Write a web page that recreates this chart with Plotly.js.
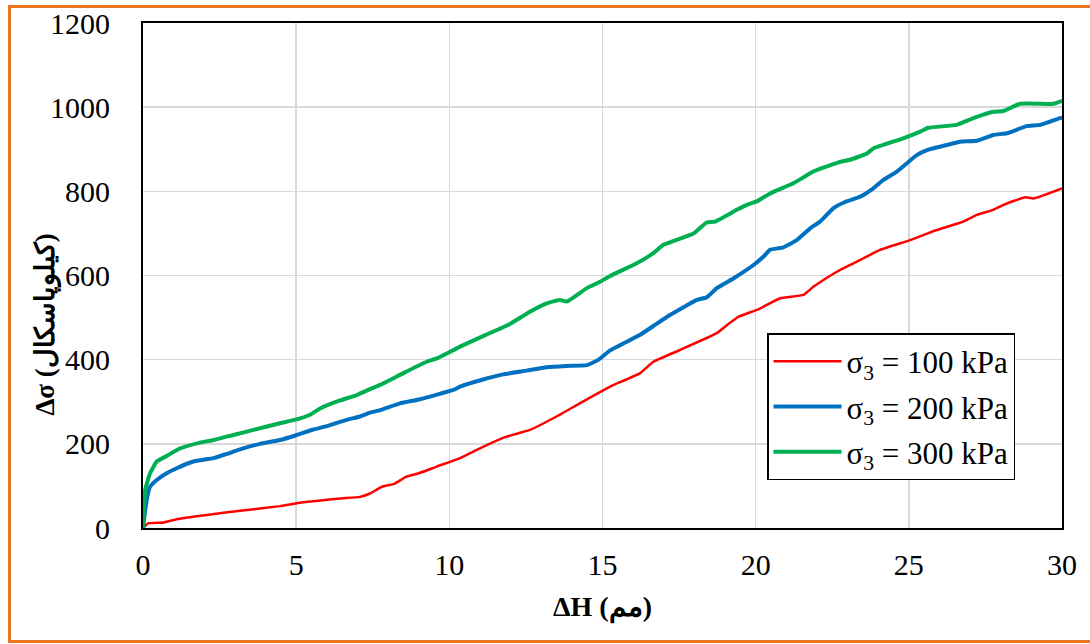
<!DOCTYPE html>
<html>
<head>
<meta charset="utf-8">
<script src="https://cdn.plot.ly/plotly-3.0.1.min.js"></script>
<style>
html,body{margin:0;padding:0;background:#fff;}
#wrap{position:relative;width:1090px;height:644px;overflow:hidden;}
#chart{width:1090px;height:644px;}
#frame{position:absolute;left:8px;top:5px;width:1100px;height:638px;border:3px solid #EB7421;box-sizing:border-box;pointer-events:none;}
</style>
</head>
<body>
<div id="wrap"><div id="chart"></div><div id="frame"></div></div>
<script>
// σ3 = 100 kPa
const dh100 = [0,0.17,0.66,1.1,2.08,3.17,4.47,5.02,6.43,7.08,7.41,7.8,8.2,8.6,9.0,9.59,10.35,11.1,11.87,12.63,13.5,14.3,15.25,16.23,16.66,17.53,18.73,19.06,19.44,20.1,20.8,21.56,21.88,22.65,23.19,23.52,24.06,25.04,25.91,26.78,27.22,27.76,28.09,28.8,29.07,30];
const ds100 = [0,11,13,21,31,41,52,59,70,74,82,98,105,122,130,146,166,193,217,233,265,298,336,368,395,423,463,482,502,520,546,554,573,609,629,641,661,684,708,728,744,756,768,786,783,807];
// σ3 = 200 kPa
const dh200 = [0,0.12,0.23,0.45,0.77,1.1,1.64,2.3,2.73,3.17,3.82,4.47,5.02,5.56,6.0,6.65,7.08,7.41,7.74,8.39,9.04,10.13,10.35,11.1,11.76,12.53,13.18,13.83,14.49,14.85,15.25,16.23,16.66,17.2,18.08,18.4,18.73,19.27,19.93,20.26,20.47,20.9,21.34,21.78,22.1,22.54,22.9,23.41,23.84,24.17,24.61,25.26,25.59,26.24,26.67,27.22,27.76,28.2,28.85,29.28,30];
const ds200 = [0,67,98,114,130,142,158,166,176,187,200,209,221,234,242,257,265,274,280,296,306,328,336,353,365,374,382,385,387,399,422,459,480,506,542,548,570,593,625,645,661,667,684,712,728,760,774,787,807,827,847,886,898,910,918,920,934,938,955,958,976];
// σ3 = 300 kPa
const dh300 = [0,0.07,0.23,0.45,0.77,1.21,1.86,2.3,2.95,3.82,4.47,5.02,5.45,5.78,6.43,6.98,7.41,7.74,8.5,9.26,9.59,10.35,11.1,11.44,11.98,12.63,13.18,13.61,13.83,14.49,14.92,15.25,16.12,16.66,16.99,17.97,18.4,18.67,19.38,19.71,20.03,20.47,21.23,21.88,22.76,23.08,23.63,23.84,24.82,25.37,25.64,26.56,27.11,27.76,28.09,28.63,29.72,30];
const ds300 = [0,90,130,158,171,189,203,209,221,237,249,258,269,284,303,316,330,340,368,395,403,431,456,467,485,514,534,542,538,570,585,599,629,653,673,700,726,728,756,768,776,795,819,847,870,875,890,902,926,942,951,958,974,989,991,1008,1008,1015];

const names = ['σ<sub>3</sub> = 100 kPa','σ<sub>3</sub> = 200 kPa','σ<sub>3</sub> = 300 kPa'];
const xTitle = 'ΔH (مم)';
const yTitle = 'Δσ (کیلوپاسکال)';

const serif = 'Liberation Serif';
const traces = [
  {x: dh100, y: ds100, name: names[0], legendgroup:'a', mode:'lines', line:{color:'#FF0000', width:2.5, shape:'spline', smoothing:0.4}},
  {x: dh200, y: ds200, name: names[1], legendgroup:'b', mode:'lines', line:{color:'#0070C0', width:4, shape:'spline', smoothing:0.4}},
  {x: dh300, y: ds300, name: names[2], legendgroup:'c', mode:'lines', line:{color:'#00B050', width:4, shape:'spline', smoothing:0.4}}
];
const layout = {
  width:1090, height:644,
  margin:{l:143, r:28, t:23, b:116},
  paper_bgcolor:'#fff', plot_bgcolor:'#fff',
  font:{family:serif, color:'#000', size:26},
  showlegend:true,
  legend:{x:0.679, y:0.386, xanchor:'left', yanchor:'top', bgcolor:'#fff', bordercolor:'#000', borderwidth:1.5,
          font:{family:serif, size:31, color:'#000'}, tracegroupgap:2, itemwidth:68},
  xaxis:{range:[0,30], dtick:5, showgrid:true, gridcolor:'#d9d9d9', gridwidth:1.5,
         showline:true, linecolor:'#000', linewidth:2, mirror:true, ticks:'', zeroline:false,
         tickfont:{family:serif, size:30}, ticklabelstandoff:9,
         title:{text:'<b>'+xTitle+'</b>', font:{family:serif, size:28}, standoff:16}},
  yaxis:{range:[0,1200], dtick:200, showgrid:true, gridcolor:'#d9d9d9', gridwidth:1.5,
         showline:true, linecolor:'#000', linewidth:2, mirror:true, ticks:'', zeroline:false,
         tickfont:{family:serif, size:30}, ticklabelstandoff:25},
  annotations:[{text:'<b>'+yTitle+'</b>', xref:'paper', yref:'paper', x:-0.106, y:0.402,
                xanchor:'center', yanchor:'middle', textangle:-90, showarrow:false,
                font:{family:serif, size:27, color:'#000'}}]
};
Plotly.newPlot('chart', traces, layout, {displayModeBar:false, staticPlot:true});
</script>
</body>
</html>
